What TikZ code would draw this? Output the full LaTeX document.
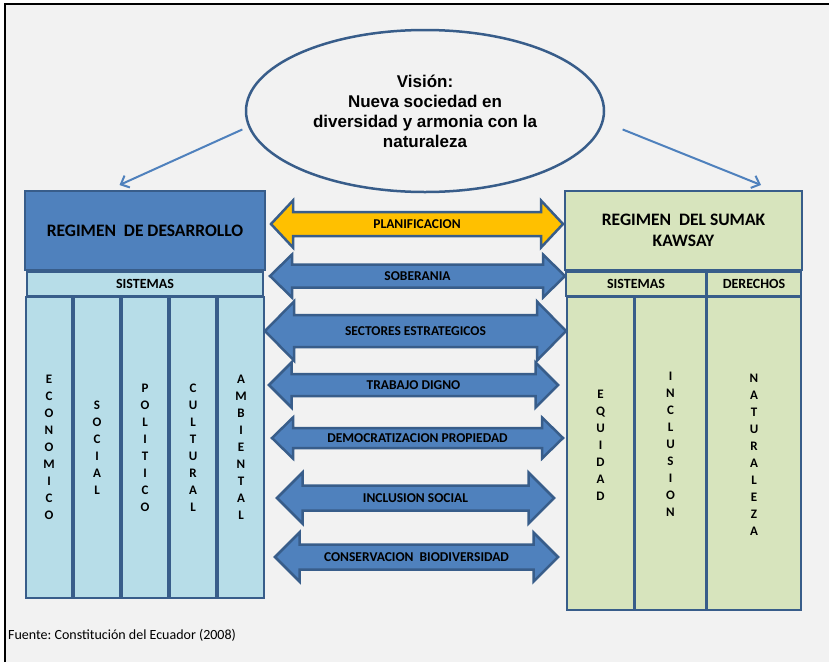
\documentclass[tikz,border=0pt]{standalone}
\usepackage{fontspec}
\setmainfont{Carlito}
\newfontfamily\visionfont{Liberation Sans}
\usetikzlibrary{shapes.geometric,arrows.meta}
\definecolor{paper}{RGB}{242,242,242}
\definecolor{bluefill}{RGB}{79,129,189}
\definecolor{edgeblue}{RGB}{56,93,138}
\definecolor{lightblue}{RGB}{183,221,232}
\definecolor{greenfill}{RGB}{215,228,189}
\definecolor{goldfill}{RGB}{255,192,0}
\frenchspacing

\begin{document}
\begin{tikzpicture}[x=1pt, y=-1pt,
    titlebox/.style={draw=edgeblue, line width=2.5pt, inner sep=0pt, align=center, font=\bfseries\fontsize{17.5}{20.5}\selectfont},
    barbox/.style={draw=edgeblue, line width=2pt, inner sep=0pt, minimum height=24pt, font=\bfseries\fontsize{14}{16}\selectfont},
    colbox/.style={draw=edgeblue, line width=2.5pt, inner sep=0pt, align=center, font=\bfseries\fontsize{13}{17}\selectfont},
    vletters/.style={inner sep=0pt, align=center, font=\bfseries\fontsize{13}{17}\selectfont},
    bandarrow/.style={draw=edgeblue, line width=2.5pt},
    bandlabel/.style={inner sep=0pt, font=\bfseries\fontsize{13.5}{16}\selectfont},
    visarrow/.style={draw=bluefill, line width=2pt, -{Straight Barb[length=7pt,width=13pt]}}]

    % Frame
    \useasboundingbox (0,0) rectangle (829,662);
    \fill[paper] (5,4) rectangle (829,662);
    \draw[line width=1.2pt] (5,662) -- (5,4) -- (829,4);

    % Vision
    \node[ellipse, draw=edgeblue, line width=2.5pt, fill=paper, minimum width=358pt, minimum height=162pt,
          align=center, font=\visionfont\bfseries\fontsize{17}{20}\selectfont] (vision) at (425,111)
          {Visión:\\Nueva sociedad en\\diversidad y armonia con la\\naturaleza};

    % Regimes
    \node[titlebox, fill=bluefill, minimum width=240pt, minimum height=79pt] (desarrollo) at (145,230.5) {REGIMEN\ \ DE DESARROLLO};
    \node[titlebox, fill=greenfill, minimum width=237pt, minimum height=79pt] (sumak) at (683.5,230.5) {REGIMEN\ \ DEL SUMAK\\KAWSAY};

    % Arrows from the vision
    \coordinate (lend) at (119.5,185);
    \coordinate (rend) at (761,185);
    \draw[visarrow] ([xshift=-7pt]vision.186) -- (lend);
    \draw[visarrow] ([xshift=22pt]vision.354) -- (rend);

    % Header bars
    \node[barbox, fill=lightblue, minimum width=236pt] (sistizq) at (145,284) {SISTEMAS};
    \node[barbox, fill=greenfill, minimum width=140pt] (sistder) at (636,283.5) {SISTEMAS};
    \node[barbox, fill=greenfill, minimum width=94pt] (derechos) at (754,283.5) {DERECHOS};

    % Left columns
    \foreach \n/\x/\t in {econ/49/{E\\C\\O\\N\\O\\M\\I\\C\\O}, social/97/{S\\O\\C\\I\\A\\L},
                          politico/145/{P\\O\\L\\I\\T\\I\\C\\O}, cultural/193/{C\\U\\L\\T\\U\\R\\A\\L},
                          ambiental/241/{A\\M\\B\\I\\E\\N\\T\\A\\L}} {
        \node[colbox, fill=lightblue, minimum width=46pt, minimum height=301pt] (\n) at (\x,447.5) {\t};
    }

    % Right columns
    \foreach \n/\x/\w/\yt/\t in {equidad/600.5/67/445/{E\\Q\\U\\I\\D\\A\\D},
                                 inclusion/670.5/71/444.5/{I\\N\\C\\L\\U\\S\\I\\O\\N},
                                 naturaleza/754/94/454.5/{N\\A\\T\\U\\R\\A\\L\\E\\Z\\A}} {
        \node[colbox, fill=greenfill, minimum width=\w pt, minimum height=313pt] (\n) at (\x,453.5) {};
        \node[vletters] (txt\n) at (\x,\yt) {\t};
    }

    % Double block arrows
    \foreach \n/\col/\xa/\xb/\yc/\hh/\sh/\hl/\lab in {
        planif/goldfill/271/563/224/23.5/12/22/PLANIFICACION,
        sober/bluefill/270/565/276/21.5/11.5/22/SOBERANIA,
        sectores/bluefill/265/566/331/29.5/16/29/SECTORES ESTRATEGICOS,
        trabajo/bluefill/269/558/385/22.5/11/22.5/TRABAJO DIGNO,
        democ/bluefill/272/563/438/20.5/10/21/DEMOCRATIZACION PROPIEDAD,
        inclus/bluefill/277/554/498/25.5/12.5/25.5/INCLUSION SOCIAL,
        conserv/bluefill/275/558/557/24.5/12.5/24.5/CONSERVACION\ \ BIODIVERSIDAD} {
        \draw[bandarrow, fill=\col] (\xa,\yc) -- (\xa+\hl,\yc-\hh) -- (\xa+\hl,\yc-\sh) -- (\xb-\hl,\yc-\sh)
            -- (\xb-\hl,\yc-\hh) -- (\xb,\yc) -- (\xb-\hl,\yc+\hh) -- (\xb-\hl,\yc+\sh)
            -- (\xa+\hl,\yc+\sh) -- (\xa+\hl,\yc+\hh) -- cycle;
        \node[bandlabel] (\n) at ({(\xa+\xb)/2},\yc) {\lab};
    }

    % Source
    \node[anchor=base west, inner sep=0pt, font=\fontsize{14}{16}\selectfont] (fuente) at (8,639) {Fuente: Constitución del Ecuador (2008)};

\end{tikzpicture}
\end{document}
